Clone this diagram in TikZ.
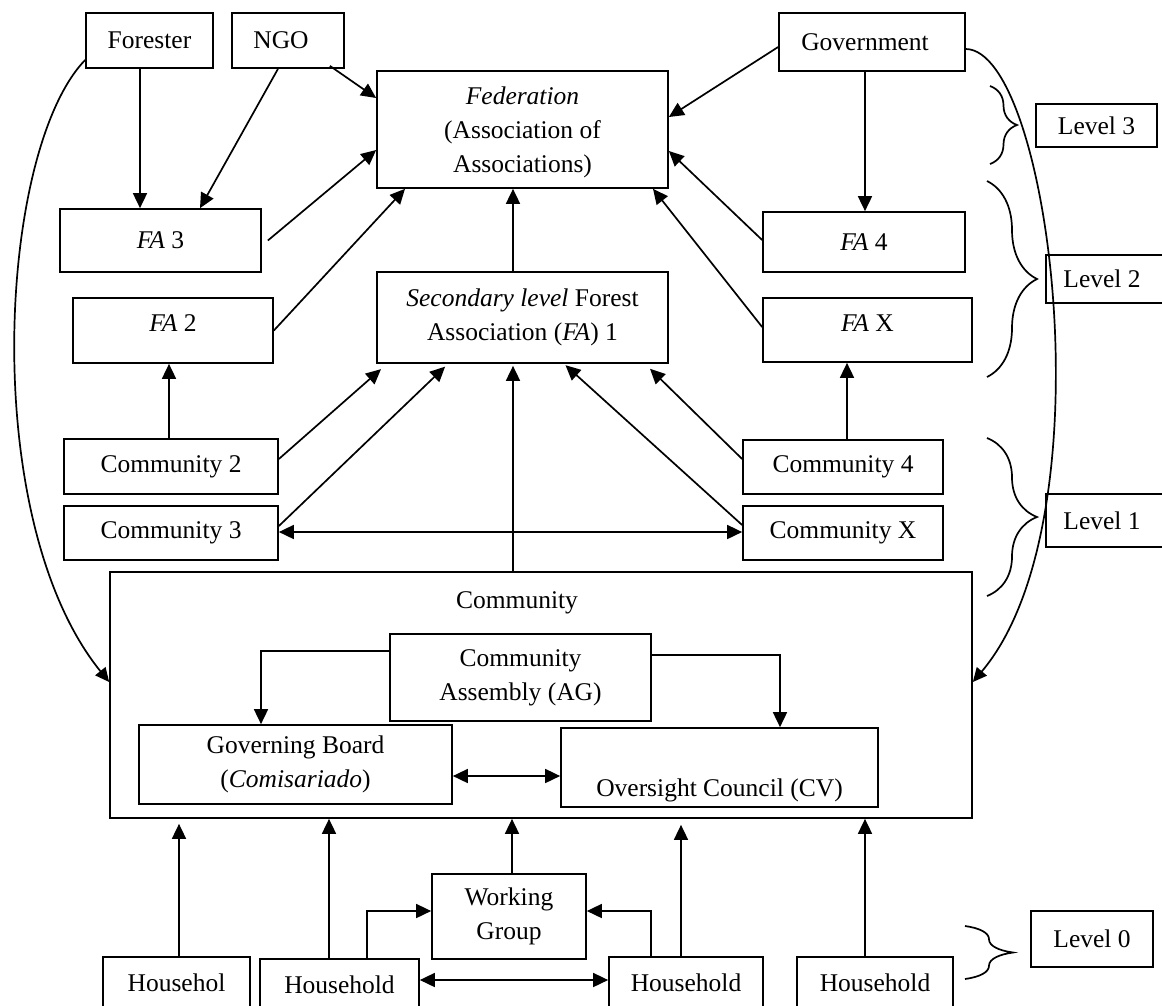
\documentclass[tikz,border=0pt]{standalone}
\usepackage{fontspec}
\setmainfont{Liberation Serif}
\usetikzlibrary{arrows.meta,decorations.pathreplacing,calc}
\begin{document}
\begin{tikzpicture}[x=1pt,y=-1pt,
  bx/.style={draw,line width=1.7pt,inner sep=0pt,align=center,
    font=\fontsize{25.5}{34}\selectfont},
  lbl/.style={inner sep=0pt,align=center,font=\fontsize{25.5}{34}\selectfont},
  arr/.style={line width=1.7pt,-{Triangle[length=15pt,width=14pt]}},
  darr/.style={line width=1.7pt,{Triangle[length=15pt,width=14pt]}-{Triangle[length=15pt,width=14pt]}},
  crv/.style={line width=1.7pt,-{Triangle[length=14pt,width=13pt]}},
  brc/.style={line width=1.7pt,decorate,decoration={brace,amplitude=#1}}]
\useasboundingbox (0,0) rectangle (1162,1005);
\clip (0,0) rectangle (1162,1005);
% nodes
\node[bx,minimum width=127pt,minimum height=55pt] (forester) at (149.5,40.5) {Forester};
\node[bx,minimum width=112pt,minimum height=55pt] (ngo) at (288,40.5) {NGO\hspace{14pt}};
\node[bx,minimum width=186pt,minimum height=58pt] (gov) at (872,42) {Government\hspace{14pt}};
\node[bx,minimum width=291pt,minimum height=117pt] (fed) at (522.5,129.5) {\rule{0pt}{24pt}\textit{Federation}\\(Association of\\Associations)};
\node[bx,minimum width=201pt,minimum height=63pt] (fa3) at (160.5,240.5) {\textit{FA} 3};
\node[bx,minimum width=200pt,minimum height=65pt] (fa2) at (173,330.5) {\textit{FA} 2\\[-20pt]\mbox{}};
\node[bx,minimum width=291pt,minimum height=91pt] (sec) at (522.5,317.5) {\textit{Secondary level} Forest\\Association (\textit{FA}) 1};
\node[bx,minimum width=202pt,minimum height=60pt] (fa4) at (864,242) {\textit{FA} 4};
\node[bx,minimum width=209pt,minimum height=64pt] (fax) at (867.5,330) {\textit{FA} X\\[-20pt]\mbox{}};
\node[bx,minimum width=214pt,minimum height=55pt] (com2) at (171,466.5) {Community 2};
\node[bx,minimum width=214pt,minimum height=54pt] (com3) at (171,533) {Community 3};
\node[bx,minimum width=200pt,minimum height=54pt] (com4) at (843,467) {Community 4};
\node[bx,minimum width=200pt,minimum height=54pt] (comx) at (843,533) {Community X};
\node[bx,minimum width=862pt,minimum height=246pt] (comm) at (541,695) {};
\node[lbl] (commlabel) at (517,603) {Community};
\node[bx,minimum width=261pt,minimum height=87pt] (ca) at (520.5,677.5) {Community\\Assembly (AG)};
\node[bx,minimum width=313pt,minimum height=79pt] (gb) at (295.5,764.5) {Governing Board\\(\textit{Comisariado})};
\node[bx,minimum width=317pt,minimum height=79pt] (oc) at (719.5,767.5) {\mbox{}\\[30pt]Oversight Council (CV)};
\node[bx,minimum width=154pt,minimum height=85pt] (wg) at (509,916.5) {Working\\Group};
\node[bx,minimum width=147pt,minimum height=52pt] (h1) at (176.5,983) {Househol};
\node[bx,minimum width=159pt,minimum height=52pt] (h2) at (339.5,985) {Household};
\node[bx,minimum width=154pt,minimum height=52pt] (h3) at (686,983) {Household};
\node[bx,minimum width=156pt,minimum height=52pt] (h4) at (875,983) {Household};
\node[bx,minimum width=121pt,minimum height=43pt] (lv3) at (1096.5,125.5) {Level 3};
\node[bx,minimum width=120pt,minimum height=48pt] (lv2) at (1106,279) {Level 2\hspace{8pt}};
\node[bx,minimum width=120pt,minimum height=53pt] (lv1) at (1106,520.5) {Level 1\hspace{8pt}};
\node[bx,minimum width=122pt,minimum height=56pt] (lv0) at (1092,939) {Level 0};
% braces
\coordinate (b3a) at (990,86);  \coordinate (b3b) at (990,164);
\coordinate (b2a) at (987,181); \coordinate (b2b) at (987,377);
\coordinate (b1a) at (987,438); \coordinate (b1b) at (987,596);
\coordinate (b0a) at (965,926); \coordinate (b0b) at (965,979);
\draw[brc=27pt] (b3a) -- (b3b);
\draw[brc=50pt] (b2a) -- (b2b);
\draw[brc=50pt] (b1a) -- (b1b);
\draw[brc=48pt] (b0a) -- (b0b);
% top connectors
\draw[arr] (forester.south -| 140,0) -- (fa3.north -| 140,0);
\draw[arr] (ngo.south -| 278,0) -- (fa3.north -| 200,0);
\draw[arr] ($(ngo.south east)+(-15,-3)$) -- (fed.west |- 0,98);
\draw[arr] ($(fa3.east)+(6,0)$) -- (fed.west |- 0,150);
\draw[arr] (fa2.east) -- (fed.south -| 405,0);
\draw[arr] (sec.north -| 513,0) -- (fed.south -| 513,0);
\draw[arr] (gov.west |- 0,47) -- (fed.east |- 0,117);
\draw[arr] (gov.south -| 865,0) -- (fa4.north -| 865,0);
\draw[arr] (fa4.west |- 0,240) -- (fed.east |- 0,151);
\draw[arr] (fax.west |- 0,327) -- (fed.south -| 653,0);
% level 1 connectors
\draw[arr] (com2.north -| 169,0) -- (fa2.south -| 169,0);
\draw[arr] (com4.north -| 847,0) -- (fax.south -| 847,0);
\draw[arr,shorten >=8pt] (com2.east |- 0,459) -- (sec.south -| 387,0);
\draw[arr,shorten >=4pt] (com3.east |- 0,526) -- (sec.south -| 448,0);
\draw[arr,shorten >=2pt] (comm.north -| 513,0) -- (sec.south -| 513,0);
\draw[arr,shorten >=2pt] (comx.west |- 0,525) -- (sec.south -| 564,0);
\draw[arr,shorten >=7pt] (com4.west |- 0,459) -- (sec.south -| 645,0);
\draw[darr] (com3.east |- 0,532) -- (comx.west |- 0,532);
% long curves
\draw[crv] (forester.west |- 0,60) .. controls (-2,150) and (-22,520) .. (comm.west |- 0,682);
\draw[crv] (gov.east |- 0,49) .. controls (1050,50) and (1110,520) .. (comm.east |- 0,682);
% inside community
\draw[arr] (ca.west |- 0,651) -| (gb.north -| 261,0);
\draw[arr] (ca.east |- 0,655) -| (oc.north -| 780,0);
\draw[darr] (gb.east |- 0,776) -- (oc.west |- 0,776);
% households
\draw[arr,shorten >=5pt] (h1.north -| 179,0) -- (comm.south -| 179,0);
\draw[arr] (h2.north -| 329,0) -- (comm.south -| 329,0);
\draw[arr] (h2.north -| 367,0) |- (wg.west |- 0,911);
\draw[arr] (wg.north -| 512,0) -- (comm.south -| 512,0);
\draw[arr] (h3.north -| 651,0) |- (wg.east |- 0,911);
\draw[arr,shorten >=6pt] (h3.north -| 681,0) -- (comm.south -| 681,0);
\draw[arr] (h4.north -| 865,0) -- (comm.south -| 865,0);
\draw[darr] (h2.east |- 0,980) -- (h3.west |- 0,980);
\end{tikzpicture}
\end{document}
